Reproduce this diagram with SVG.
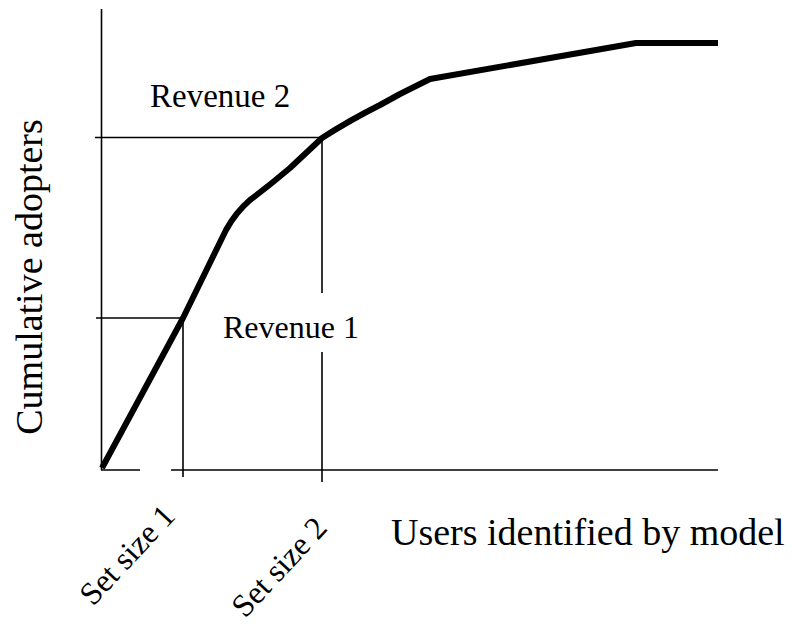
<svg xmlns="http://www.w3.org/2000/svg" width="792" height="624" viewBox="0 0 792 624">
<style>
.thin{stroke:#000;stroke-width:1.6;fill:none}
.curve{stroke:#000;stroke-width:6;fill:none;stroke-linejoin:round}
text{font-family:"Liberation Serif","Times New Roman","DejaVu Serif",serif;fill:#000}
</style>
<rect width="792" height="624" fill="#fff"/>
<g id="axes">
<line class="thin" x1="101.5" y1="9" x2="101.5" y2="470"/>
<line class="thin" x1="101" y1="470" x2="140" y2="470"/>
<line class="thin" x1="171" y1="470" x2="718" y2="470"/>
</g>
<g id="connectors">
<line class="thin" x1="95" y1="137.5" x2="322" y2="137.5"/>
<line class="thin" x1="322" y1="137.5" x2="322" y2="482"/>
<line class="thin" x1="96" y1="318" x2="183" y2="318"/>
<line class="thin" x1="183" y1="318" x2="183" y2="477"/>
</g>
<g id="curve">
<path class="curve" d="M102,468 L183,318 L226,230 Q236,212 250,200 Q270,185 290,168 L322,138 Q350,120 380,105 L400,94 L430,79 L636,43 L718,43"/>
</g>
<g id="revenue2"><text x="150" y="107" font-size="33">Revenue 2</text></g>
<g id="revenue1">
<rect x="214" y="293" width="152" height="59" fill="#fff"/>
<text x="223" y="338" font-size="32">Revenue 1</text>
</g>
<g id="ylabel"><text transform="translate(42,277) rotate(-90)" text-anchor="middle" font-size="38">Cumulative adopters</text></g>
<g id="xlabel"><text x="391" y="545" font-size="38">Users identified by model</text></g>
<g id="setsize1"><text transform="translate(93,607) rotate(-47)" font-size="32">Set size 1</text></g>
<g id="setsize2"><text transform="translate(245,619) rotate(-47)" font-size="32">Set size 2</text></g>
</svg>
